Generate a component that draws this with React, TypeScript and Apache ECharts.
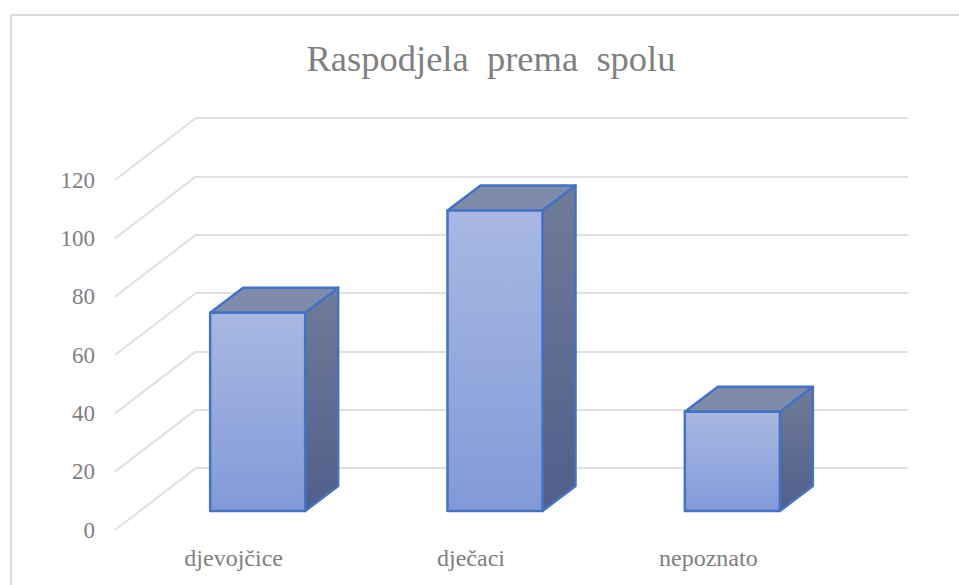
import React, { useEffect, useRef } from "react";
import * as echarts from "echarts";

const categories = ["djevojčice", "dječaci", "nepoznato"];
const values = [68, 103, 34];
const yTicks = [0, 20, 40, 60, 80, 100, 120];
const titleText = "Raspodjela\u00A0\u00A0prema\u00A0\u00A0spolu";

const FONT = '"Liberation Serif", serif';
const TEXT = "#808080";
const GRIDLINE = "#e0e0e0";
const EDGE = "#4472c4";

export default function App() {
  const ref = useRef<HTMLDivElement>(null);
  useEffect(() => {
    document.body.style.margin = "0";
    const chart = echarts.init(ref.current!, null, { renderer: "svg" });
    const vGrad = (a: string, b: string) =>
      new echarts.graphic.LinearGradient(0, 0, 0, 1, [
        { offset: 0, color: a },
        { offset: 1, color: b },
      ]);
    chart.setOption({
      animation: false,
      backgroundColor: "#ffffff",
      title: {
        text: titleText,
        left: 486,
        top: 35,
        textAlign: "center",
        textStyle: { fontFamily: FONT, fontSize: 36.5, fontWeight: "normal", color: TEXT },
      },
      graphic: [
        { type: "line", shape: { x1: 11, y1: 15, x2: 959, y2: 15 }, style: { stroke: "#dcdcdc", lineWidth: 2 } },
        { type: "line", shape: { x1: 11, y1: 15, x2: 11, y2: 585 }, style: { stroke: "#dcdcdc", lineWidth: 2 } },
      ],
      grid: [
        { left: 196, top: 118, width: 712, height: 350 },
        { left: 115, top: 180, width: 712, height: 350 },
      ],
      xAxis: [
        { type: "category", gridIndex: 0, data: categories, show: false },
        {
          type: "category",
          gridIndex: 1,
          data: categories,
          axisLine: { show: false },
          axisTick: { show: false },
          axisLabel: { fontFamily: FONT, fontSize: 24, color: TEXT, margin: 16 },
        },
      ],
      yAxis: [
        {
          type: "value",
          gridIndex: 0,
          min: 0,
          max: 120,
          interval: 20,
          axisLine: { show: false },
          axisTick: { show: false },
          axisLabel: { show: false },
          splitLine: { lineStyle: { color: GRIDLINE, width: 2 } },
        },
        {
          type: "value",
          gridIndex: 1,
          min: 0,
          max: 120,
          interval: 20,
          axisLine: { show: false },
          axisTick: { show: false },
          axisLabel: { fontFamily: FONT, fontSize: 23, color: TEXT, margin: 20, padding: [4, 0, 0, 0] },
          splitLine: { show: false },
        },
      ],
      series: [
        {
          type: "custom",
          name: "floor",
          xAxisIndex: 0,
          yAxisIndex: 0,
          silent: true,
          clip: false,
          z: 1,
          data: yTicks.map((t) => [0, t]),
          renderItem: (params: any, api: any) => {
            const p = api.coord([0, api.value(1)]);
            const left = params.coordSys.x;
            return {
              type: "line",
              shape: { x1: left, y1: p[1], x2: left - 81, y2: p[1] + 62 },
              style: { stroke: GRIDLINE, lineWidth: 2, fill: "none" },
            };
          },
        },
        {
          type: "custom",
          name: "bars",
          xAxisIndex: 0,
          yAxisIndex: 0,
          silent: true,
          clip: false,
          z: 3,
          data: values.map((v, i) => [i, v]),
          renderItem: (_params: any, api: any) => {
            const top = api.coord([api.value(0), api.value(1)]);
            const base = api.coord([api.value(0), 0]);
            const w = 95;
            const dx = 33;
            const dy = -25;
            const x0 = top[0] - 57 - w / 2;
            const x1 = x0 + w;
            const yt = top[1] + 43;
            const yb = base[1] + 43;
            const line = { stroke: EDGE, lineWidth: 2.5, lineJoin: "round" };
            return {
              type: "group",
              children: [
                {
                  type: "polygon",
                  shape: { points: [[x1, yt], [x1 + dx, yt + dy], [x1 + dx, yb + dy], [x1, yb]] },
                  style: { fill: vGrad("#6f7b99", "#505f8a"), ...line },
                },
                {
                  type: "polygon",
                  shape: { points: [[x0, yt], [x0 + dx, yt + dy], [x1 + dx, yt + dy], [x1, yt]] },
                  style: { fill: "#7f8bab", ...line },
                },
                {
                  type: "rect",
                  shape: { x: x0, y: yt, width: w, height: yb - yt },
                  style: { fill: vGrad("#a9b8e2", "#819ad8"), ...line },
                },
              ],
            };
          },
        },
      ],
    });
    return () => chart.dispose();
  }, []);
  return <div ref={ref} style={{ width: 959, height: 585 }} />;
}
